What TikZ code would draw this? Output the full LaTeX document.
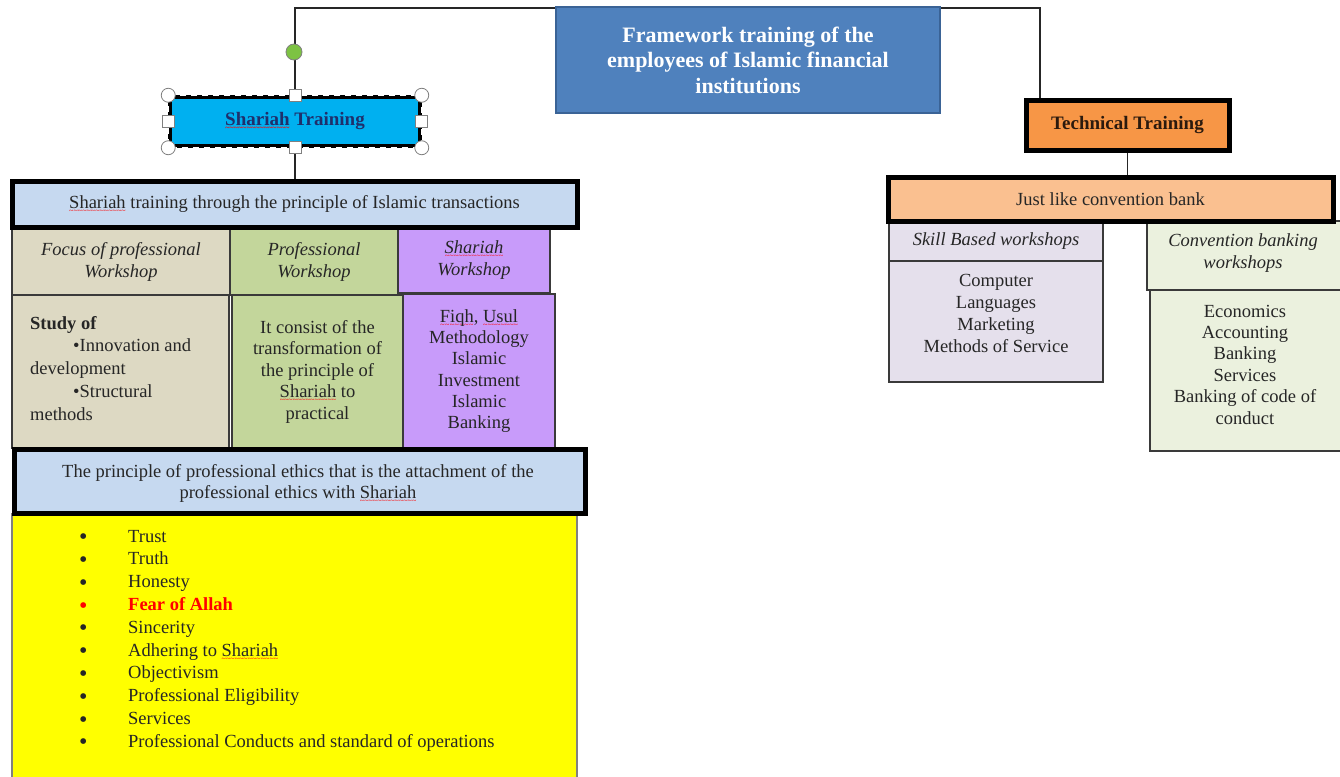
\documentclass[tikz,border=0pt]{standalone}
\usepackage{fontspec}
\setmainfont{Liberation Serif}
\newcommand\spl[1]{\setbox0=\hbox{#1}\leavevmode\rlap{\raisebox{-5pt}{\color{red}\hbox to\wd0{\fontsize{8}{8}\selectfont\xleaders\hbox{\char"7E}\hfil}}}\box0\relax}
\newcommand\bul{\raisebox{-2.5pt}{\fontsize{24}{20}\selectfont •}}
\definecolor{titleblue}{HTML}{4F81BD}
\definecolor{titleedge}{HTML}{3A6396}
\definecolor{shcyan}{HTML}{00B0F0}
\definecolor{lblue}{HTML}{C6D9F0}
\definecolor{tan}{HTML}{DDD9C3}
\definecolor{lgreen}{HTML}{C3D69B}
\definecolor{lpurple}{HTML}{C89BFA}
\definecolor{orangeT}{HTML}{F79646}
\definecolor{lorange}{HTML}{FAC090}
\definecolor{lavender}{HTML}{E5E0EC}
\definecolor{greyg}{HTML}{EBF1DE}
\definecolor{dotgreen}{HTML}{7DC243}
\definecolor{navy}{HTML}{1F2F6B}
\definecolor{darkbrown}{HTML}{2B1A0E}
\definecolor{celledge}{HTML}{3A3A3A}
\definecolor{yel}{HTML}{FFFF00}
\begin{document}
\begin{tikzpicture}[x=1pt,y=-1pt,
  txt/.style={font=\fontsize{18.5}{22}\selectfont, inner sep=0, align=center, text=black!85},
  boxn/.style={rectangle, inner sep=0, minimum width=#1},
  thickbox/.style={draw=black, line width=5pt},
  thinbox/.style={draw=celledge, line width=1.5pt},
  handlec/.style={circle, draw=gray, fill=white, line width=0.8pt, minimum size=14pt, inner sep=0},
  handles/.style={rectangle, draw=gray, fill=white, line width=0.8pt, minimum size=12pt, inner sep=0},
  link/.style={draw=black!85, line width=1.3pt}]
\useasboundingbox (0,0) rectangle (1340,776);
\fill[white] (0,0) rectangle (1340,776);

% ---------- right side ----------
\node[boxn=214pt, minimum height=40pt, thinbox, fill=lavender, txt] (skillH) at (996,241) {\textit{Skill Based workshops}};
\node[boxn=214pt, minimum height=121pt, thinbox, fill=lavender] (skillB) at (996,321.5) {};
\node[txt, font=\fontsize{18.5}{21.7}\selectfont] (skillT) at (996,313.5) {Computer\\Languages\\Marketing\\Methods of Service};
\node[boxn=198pt, minimum height=69pt, thinbox, fill=greyg] (convH) at (1246,255.5) {};
\node[txt] (convHT) at (1243,253.5) {\textit{Convention banking}\\\textit{workshops}};
\node[boxn=195pt, minimum height=161pt, thinbox, fill=greyg] (convB) at (1247.5,370.5) {};
\node[txt, font=\fontsize{18.5}{21.4}\selectfont] (convT) at (1245,364.5) {Economics\\Accounting\\Banking\\Services\\Banking of code of\\conduct};
\node[boxn=445pt, minimum height=44pt, thickbox, fill=lorange, txt] (just) at (1110.5,199) {Just like convention bank};
\node[boxn=203pt, minimum height=50pt, thickbox, fill=orangeT, txt, font=\fontsize{19}{22}\bfseries, text=darkbrown] (tech) at (1127.5,125) {Technical Training};
\draw[link] (tech.south) -- (tech.south |- just.north);

% ---------- left side: table ----------
\node[boxn=218pt, minimum height=66pt, thinbox, fill=tan, txt] (c11) at (121,262) {\textit{Focus of professional}\\\textit{Workshop}};
\node[boxn=168pt, minimum height=66pt, thinbox, fill=lgreen, txt] (c12) at (314,262) {\textit{Professional}\\\textit{Workshop}};
\node[boxn=152pt, minimum height=66pt, thinbox, fill=lpurple, txt] (c13) at (474,260) {\textit{\spl{Shariah}}\\\textit{Workshop}};
\node[boxn=217pt, minimum height=153pt, thinbox, fill=tan] (c21) at (120.5,371.5) {};
\node[txt, align=left, anchor=north west, font=\fontsize{18.5}{22.75}\selectfont] (c21t) at (30,316) {\textbf{Study of}\\\hspace*{43pt}•Innovation and\\development\\\hspace*{43pt}•Structural\\methods};
\node[boxn=171pt, minimum height=153pt, thinbox, fill=lgreen, txt, font=\fontsize{18.5}{21.5}\selectfont] (c22) at (317.5,371.5) {It consist of the\\transformation of\\the principle of\\\spl{Shariah} to\\practical};
\node[boxn=152pt, minimum height=154pt, thinbox, fill=lpurple, txt, font=\fontsize{18.5}{21.2}\selectfont] (c23) at (479,371) {\spl{Fiqh}, \spl{Usul}\\Methodology\\Islamic\\Investment\\Islamic\\Banking};

% yellow list
\node[boxn=565pt, minimum height=276pt, draw=gray, line width=1.2pt, fill=yel] (yelbox) at (294.5,652) {};
\node[txt, anchor=north west, align=left, font=\fontsize{18.5}{22.8}\selectfont] (list) at (79,526) {%
\begin{tabular}{@{}p{49pt}@{}l@{}}
\bul & Trust\\
\bul & Truth\\
\bul & Honesty\\
\textcolor{red}{\bul} & \textcolor{red}{\textbf{Fear of Allah}}\\
\bul & Sincerity\\
\bul & Adhering to \spl{Shariah}\\
\bul & Objectivism\\
\bul & Professional Eligibility\\
\bul & Services\\
\bul & Professional Conducts and standard of operations
\end{tabular}};

\node[boxn=571pt, minimum height=64pt, thickbox, fill=lblue] (eth) at (299.5,481) {};
\node[txt, font=\fontsize{18.5}{21}\selectfont] (etht) at (298,483.5) {The principle of professional ethics that is the attachment of the\\professional ethics with \spl{Shariah}};
\node[boxn=565pt, minimum height=46pt, thickbox, fill=lblue, txt] (stt) at (294.5,204) {\spl{Shariah} training through the principle of Islamic transactions};

% ---------- top ----------
\coordinate (tR) at (1040,8);
\node[boxn=250pt, minimum height=49pt, fill=shcyan, draw=black, line width=3.5pt, txt, font=\fontsize{19}{22}\bfseries, text=navy] (sh) at (295,121.5) {\spl{Shariah} Training};
\draw[white, line width=1pt, dash pattern=on 6pt off 5pt] (sh.north west) rectangle (sh.south east);
\draw[link] (sh.north) |- (tR) -- (tR |- tech.north);
\draw[link] (sh.south) -- (sh.south |- stt.north);
\node[boxn=384pt, minimum height=106pt, fill=titleblue, draw=titleedge, line width=2pt, txt, font=\fontsize{22}{25.5}\bfseries, text=white] (title) at (748,60) {Framework training of the\\employees of Islamic financial\\institutions};
\node[circle, fill=dotgreen, draw=gray, line width=0.8pt, minimum size=16pt, inner sep=0] (rot) at (294,52) {};
\foreach \a in {north west,north east,south west,south east} \node[handlec] at (sh.\a) {};
\foreach \a in {north,south,west,east} \node[handles] at (sh.\a) {};
\end{tikzpicture}
\end{document}
